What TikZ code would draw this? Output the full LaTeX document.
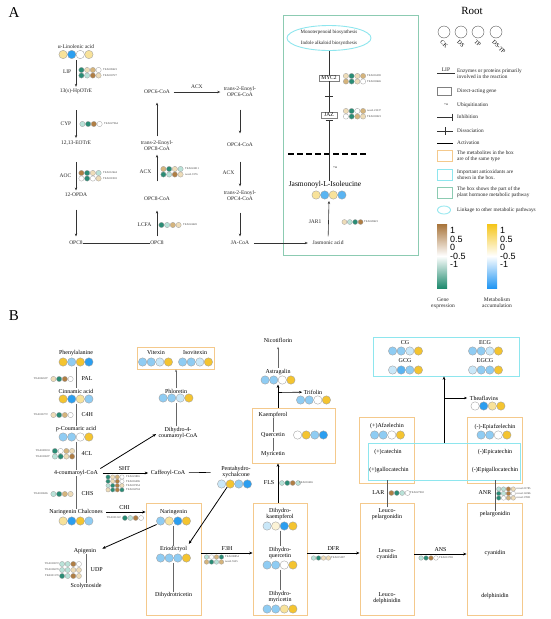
\documentclass[tikz,border=0pt]{standalone}
\usepackage{fontspec}
\setmainfont{Liberation Serif}
\newfontfamily\sansf{Liberation Sans}
\usetikzlibrary{arrows.meta,shapes.geometric,calc}
\definecolor{gbr}{HTML}{B07E44}
\definecolor{gtn}{HTML}{D5B47C}
\definecolor{glt}{HTML}{EEDCB8}
\definecolor{gtl}{HTML}{B9E2D8}
\definecolor{gte}{HTML}{2A8C75}
\definecolor{myl}{HTML}{F4C430}
\definecolor{mly}{HTML}{F8E29A}
\definecolor{mvy}{HTML}{FCF3D6}
\definecolor{mbl}{HTML}{2B9EF0}
\definecolor{mmb}{HTML}{5AB4F2}
\definecolor{mlb}{HTML}{8FCCF3}
\definecolor{mvb}{HTML}{C9E7F8}
\definecolor{orc}{HTML}{F4C98C}
\definecolor{cyc}{HTML}{8EE6EE}
\definecolor{grc}{HTML}{8CCBB2}
\definecolor{barbr}{HTML}{A8743A}
\definecolor{barte}{HTML}{1F8A6E}
\definecolor{baryl}{HTML}{F5C518}
\definecolor{barbl}{HTML}{2196F3}
\newcommand{\mcrow}[4]{%
  \foreach \cc [count=\ii] in {#4}{\node[mc,fill=\cc] (#1-\ii) at ({#2+(\ii-2.5)*8.6},{#3}) {};}}
\newcommand{\gnrow}[5]{%
  \foreach \cc [count=\ii] in {#4}{\node[gc,fill=\cc,minimum size=#5] (#1-\ii) at ({#2+(\ii-2.5)*#5*1.08},{#3}) {};}}
\tikzset{
  mc/.style={circle,draw=gray!75,line width=0.35pt,minimum size=8.4pt,inner sep=0pt},
  gc/.style={circle,draw=gray!75,line width=0.3pt,inner sep=0pt},
  ta/.style={font=\fontsize{5.5}{6}\selectfont,align=center,inner sep=0.5pt,text=black!85},
  tb/.style={font=\fontsize{6}{6.6}\selectfont,align=center,inner sep=0.5pt},
  tl/.style={font=\fontsize{5.3}{6.2}\selectfont,align=left,anchor=west,inner sep=0pt,text=black!85},
  gid/.style={font=\fontsize{2.8}{3}\selectfont,inner sep=0pt,text=black!75},
  rl/.style={font=\fontsize{5.8}{5.8}\selectfont,rotate=-45,anchor=west,inner sep=0pt},
  arrA/.style={-{Stealth[length=3pt,width=2.4pt]},line width=0.6pt,draw=black!80},
  lnA/.style={line width=0.6pt,draw=black!80},
  arrB/.style={-{Stealth[length=3.5pt,width=2.8pt]},line width=0.8pt},
  arrT/.style={-{Stealth[length=2.5pt,width=2pt]},line width=0.4pt,draw=gray!80!black},
  thinB/.style={line width=0.4pt,draw=gray!80!black},
  obox/.style={draw=orc,line width=0.8pt,inner sep=0pt},
  cbx/.style={draw=cyc,line width=0.8pt,inner sep=0pt},
  sans/.style={font=\sansf\fontsize{9}{9}\selectfont,anchor=west,inner sep=0pt}
}
\begin{document}
\begin{tikzpicture}[x=1pt,y=-1pt]
\useasboundingbox (0,0) rectangle (550,619);
\fill[white] (0,0) rectangle (550,619);
% ================= PANEL A =================
\node[font=\fontsize{15}{15}\selectfont,inner sep=0] (labA) at (14,13) {A};
\node[ta] (lin) at (76,47) {α-Linolenic acid};
\mcrow{linc}{76}{54.5}{mly,mbl,white,mly}
\coordinate (linb) at (76,60);
\node[ta] (hpo) at (76,91) {13(s)-HpOTrE};
\draw[arrA,shorten >=1] (linb) -- (hpo);
\node[ta,anchor=east] (lip) at (72,72) {LIP};
\gnrow{lipa}{90}{70}{gte,glt,gtn,white}{5.3}
\gnrow{lipb}{90}{75.5}{gte,gtl,gbr,glt}{5.3}
\node[gid,anchor=west] (lipida) at (103,70) {TEA009423};
\node[gid,anchor=west] (lipidb) at (103,75.5) {TEA003727};
\node[ta] (eot) at (76,143) {12,13-EOTrE};
\draw[arrA,shorten <=16,shorten >=2] (hpo) -- (eot);
\node[ta,anchor=east] (cyp) at (72,124) {CYP};
\gnrow{cypg}{91}{124}{gtl,gte,gbr,white}{5.3}
\node[gid,anchor=west] (cypid) at (104,124) {TEA027964};
\node[ta] (opda) at (76,195) {12-OPDA};
\draw[arrA,shorten <=16,shorten >=2] (eot) -- (opda);
\node[ta,anchor=east] (aoc) at (72,176) {AOC};
\gnrow{aoca}{90}{173}{gbr,gte,glt,gtl}{5.3}
\gnrow{aocb}{90}{178.5}{white,gte,white,glt}{5.3}
\node[gid,anchor=west] (aocida) at (103,173) {TEA012644};
\node[gid,anchor=west] (aocidb) at (103,178.5) {TEA001903};
\node[ta] (opc8) at (76,243) {OPC8};
\draw[arrA,shorten <=12,shorten >=4] (opda) -- (opc8);
\node[ta] (opc8b) at (157,243) {OPC8};
\draw[lnA] (opc8) -- (opc8b);
\node[ta] (opc8coa) at (157,199) {OPC8-CoA};
\draw[arrA,shorten <=4,shorten >=9] (opc8b) -- (opc8coa);
\node[ta,anchor=east] (lcfa) at (152,225) {LCFA};
\gnrow{lcfag}{170}{225}{gte,gtl,gtn,glt}{5.3}
\node[gid,anchor=west] (lcfaid) at (183,225) {TEA024449};
\node[ta] (t2o8) at (157,146) {trans-2-Enoyl-\\OPC8-CoA};
\draw[arrA,shorten <=15,shorten >=3] (opc8coa) -- (t2o8);
\node[ta,anchor=east] (acx1) at (152,172) {ACX};
\gnrow{acxa}{172}{169}{gtn,gte,glt,gtl}{5.3}
\gnrow{acxb}{172}{174.5}{gte,gtl,gbr,glt}{5.3}
\node[gid,anchor=west] (acxida) at (185,169) {TEA024011};
\node[gid,anchor=west] (acxidb) at (185,174.5) {novel.9176};
\node[ta] (opc6) at (157,92) {OPC6-CoA};
\draw[arrA,shorten <=4,shorten >=8] (t2o8) -- (opc6);
\node[ta] (t2o6) at (240,92) {trans-2-Enoyl-\\OPC6-CoA};
\draw[arrA,shorten <=3,shorten >=3] (opc6) -- node[ta,above=3pt] (acx2) {ACX} (t2o6);
\node[ta] (opc4) at (240,145) {OPC4-CoA};
\draw[arrA,shorten <=12,shorten >=9] (t2o6) -- (opc4);
\node[ta] (t2o4) at (240,196) {trans-2-Enoyl-\\OPC4-CoA};
\draw[arrA,shorten <=14,shorten >=4] (opc4) -- (t2o4);
\node[ta,anchor=east] (acx3) at (235,173) {ACX};
\node[ta] (jacoa) at (240,243) {JA-CoA};
\draw[arrA,shorten <=11,shorten >=4] (t2o4) -- (jacoa);
\node[draw=grc,line width=0.9pt,minimum width=135,minimum height=240,inner sep=0] (gbox) at (350.5,135) {};
\node[ta] (ja) at (328,243) {Jasmonic acid};
\draw[arrA,shorten <=4,shorten >=4] (jacoa) -- (ja);
\node[ellipse,draw=cyc,line width=0.9pt,minimum width=84,minimum height=25,inner sep=0] (ell) at (329,38) {};
\node[font=\fontsize{5}{5}\selectfont,inner sep=0,text=black!85] (mono) at (329,32.5) {Monoterpenoid biosynthesis};
\node[font=\fontsize{5}{5}\selectfont,inner sep=0,text=black!85] (indo) at (329,43.5) {Indole alkaloid biosynthesis};
\node[draw=gray,line width=0.5pt,font=\fontsize{5.5}{6}\selectfont,inner sep=1.2pt,minimum width=20] (myc) at (329,78) {MYC2};
\node[draw=gray,line width=0.5pt,font=\fontsize{5.5}{6}\selectfont,inner sep=1.2pt,minimum width=16] (jaz) at (329,115) {JAZ};
\draw[lnA] (ell) -- (myc);
\draw[lnA] (myc) -- coordinate (disc) (jaz);
\draw[lnA] ([xshift=-4]disc) -- ([xshift=4]disc);
\gnrow{myca}{354.5}{76}{glt,gte,glt,gtn}{5.3}
\gnrow{mycb}{354.5}{81.5}{gtn,gte,glt,white}{5.3}
\node[gid,anchor=west] (mycida) at (367,76) {TEA016290};
\node[gid,anchor=west] (mycidb) at (367,81.5) {TEA003646};
\gnrow{jaza}{354.5}{111}{glt,gte,white,gtn}{5.3}
\gnrow{jazb}{354.5}{116.5}{white,gte,gtn,glt}{5.3}
\node[gid,anchor=west] (jazida) at (367,111) {novel.23237};
\node[gid,anchor=west] (jazidb) at (367,116.5) {TEA003023};
\coordinate (dl1) at (288,154);
\coordinate (dl2) at (368,154);
\draw[line width=2.2pt,dash pattern=on 6pt off 3pt] (dl1) -- (dl2);
\node[font=\fontsize{3.5}{4}\selectfont,inner sep=0] (ub) at (335,168) {+u};
\node[font=\fontsize{7.5}{8}\selectfont,inner sep=0.5pt] (jasi) at (325,185) {Jasmonoyl-L-Isoleucine};
\draw[lnA,-{Bar[width=7pt]},shorten >=2] (jasi.north -| jaz) -- (jaz);
\mcrow{jasc}{329}{195}{mly,mmb,mly,mmb}
\coordinate (jasb) at (329,201);
\draw[arrA,shorten <=4] (ja) -- (jasb);
\node[ta,anchor=east] (jar) at (322,222) {JAR1};
\gnrow{jarg}{352.5}{222}{glt,gtl,gte,gbr}{5}
\node[gid,anchor=west] (jarid) at (364,222) {TEA028623};
% ================= LEGEND =================
\node[font=\fontsize{11}{11}\selectfont,inner sep=0] (root) at (472,11) {Root};
\foreach \xx/\nm in {444/lc1,461/lc2,478/lc3,496/lc4}{\node[circle,draw=gray!70!black,line width=0.4pt,minimum size=12,inner sep=0] (\nm) at (\xx,32) {};}
\node[rl] (lck) at (441,41) {CK};
\node[rl] (lds) at (458,41) {DS};
\node[rl] (ltp) at (475,41) {TP};
\node[rl] (ldstp) at (493,41) {DS-TP};
\node[ta] (llip) at (446,70) {LIP};
\coordinate (lu1) at (437,73.5);
\coordinate (lu2) at (455,73.5);
\draw[lnA] (lu1) -- (lu2);
\node[tl] (tlip) at (457,74) {Enzymes or proteins primarily\\involved in the reaction};
\node[draw=gray,line width=0.5pt,minimum width=14,minimum height=8,inner sep=0] (ldir) at (444,91) {};
\node[tl] (tdir) at (457,91) {Direct-acting gene};
\node[font=\fontsize{3.5}{4}\selectfont,inner sep=0] (lub) at (446,105) {+u};
\node[tl] (tub) at (457,105) {Ubiquitination};
\coordinate (li1) at (437,117);
\coordinate (li2) at (453,117);
\draw[lnA,-{Bar[width=7pt]}] (li1) -- (li2);
\node[tl] (tinh) at (457,117) {Inhibition};
\coordinate (ld1) at (437,131);
\coordinate (ld2) at (453,131);
\draw[lnA] (ld1) -- coordinate (ldm) (ld2);
\draw[lnA] ([yshift=4]ldm) -- ([yshift=-4]ldm);
\node[tl] (tdis) at (457,131) {Dissociation};
\coordinate (la1) at (437,143);
\coordinate (la2) at (453,143);
\draw[line width=0.4pt] (la1) -- (la2);
\node[tl] (tact) at (457,143) {Activation};
\node[obox,minimum width=15,minimum height=11] (lob) at (444.5,155.5) {};
\node[tl] (tob) at (457,156) {The metabolites in the box\\are of the same type};
\node[cbx,minimum width=15,minimum height=11] (lcb) at (444.5,174.5) {};
\node[tl] (tcb) at (457,175) {Important antioxidants are\\shown in the box.};
\node[draw=grc,line width=0.8pt,minimum width=15,minimum height=11,inner sep=0] (lgb) at (444.5,192.5) {};
\node[tl] (tgb) at (457,192) {The box shows the part of the\\plant hormone metabolic pathway};
\node[ellipse,draw=cyc,line width=0.8pt,minimum width=13,minimum height=8,inner sep=0] (lel) at (444,210) {};
\node[tl] (tel) at (457,210) {Linkage to other metabolic pathways};
\node[minimum width=10,minimum height=64,inner sep=0,top color=barbr,bottom color=barte,middle color=white] (gbar) at (442,256) {};
\node[minimum width=10,minimum height=64,inner sep=0,top color=baryl,bottom color=barbl,middle color=white] (mbar) at (492,256) {};
\foreach \yy/\tt [count=\k] in {230.5/1,239/0.5,247.5/0,256/-0.5,264/-1}{
  \node[sans] (gl\k) at (450,\yy) {\tt};
  \node[sans] (ml\k) at (500,\yy) {\tt};
}
\node[ta] (gexp) at (443,303) {Gene\\expression};
\node[ta] (macc) at (497,303) {Metabolism\\accumulation};
% ================= PANEL B =================
\node[font=\fontsize{15}{15}\selectfont,inner sep=0] (labB) at (14,316) {B};
\node[tb] (phe) at (76,353) {Phenylalanine};
\mcrow{phec}{76}{362}{myl,mlb,myl,mbl}
\coordinate (pheb) at (76,366.5);
\node[tb] (cin) at (76,391) {Cinnamic acid};
\draw[thinB] (pheb) -- (cin);
\node[tb,anchor=west] (pal) at (81,379) {PAL};
\gnrow{palg}{62}{379}{glt,gte,gbr,white}{5.3}
\node[gid,anchor=east] (palid) at (48,379) {TEA024597};
\mcrow{cinc}{76}{399}{myl,mbl,mly,mlb}
\coordinate (cinb) at (76,403.5);
\node[tb] (pco) at (76,429) {p-Coumaric acid};
\draw[thinB] (cinb) -- (pco);
\node[tb,anchor=west] (c4h) at (81,415) {C4H};
\gnrow{c4hg}{62}{415}{glt,gte,gtn,white}{5.3}
\node[gid,anchor=east] (c4hid) at (48,415) {TEA016772};
\mcrow{pcoc}{76}{437}{mlb,mlb,white,myl}
\coordinate (pcob) at (76,441.5);
\node[tb] (cou) at (76,473) {4-coumaroyl-CoA};
\draw[thinB] (pcob) -- (cou);
\node[tb,anchor=west] (fcl) at (81,454) {4CL};
\gnrow{fcla}{63.5}{451}{gte,white,gtn,glt}{5.3}
\gnrow{fclb}{63.5}{456.5}{gtl,gte,glt,gbr}{5.3}
\node[gid,anchor=east] (fclida) at (50,451) {TEA029033};
\node[gid,anchor=east] (fclidb) at (50,456.5) {TEA010697};
\node[tb] (nch) at (76,512) {Naringenin Chalcones};
\draw[thinB] (cou) -- (nch);
\node[tb,anchor=west] (chs) at (81,494) {CHS};
\gnrow{chsg}{62}{494}{gtl,gte,gtn,glt}{5.3}
\node[gid,anchor=east] (chsid) at (48,494) {TEA010665};
\mcrow{nchc}{76}{521}{mly,mbl,myl,mlb}
\node[tb] (caf) at (168,473) {Caffeoyl-CoA};
\draw[arrB,line width=0.7pt,shorten <=4,shorten >=2] (cou) -- node[tb,above=1.5pt] (sht) {SHT} (caf);
\gnrow{shta}{115}{477}{gte,glt,gtn,white}{4.3}
\gnrow{shtb}{115}{481.3}{gte,glt,gbr,white}{4.3}
\gnrow{shtc}{115}{485.6}{gtl,gte,gbr,glt}{4.3}
\gnrow{shtd}{115}{489.9}{glt,gte,gbr,gte}{4.3}
\node[gid,anchor=west] (shtida) at (126,477) {TEA023865};
\node[gid,anchor=west] (shtidb) at (126,481.3) {TEA016096};
\node[gid,anchor=west] (shtidc) at (126,485.6) {TEA007054};
\node[gid,anchor=west] (shtidd) at (126,489.9) {TEA004704};
\node[tb] (pen) at (236,472) {Pentahydro-\\xychalcone};
\draw[line width=0.6pt,shorten <=3,shorten >=10] (caf) -- (pen);
\mcrow{penc}{234.5}{484}{mvb,myl,mlb,mbl}
\node[tb] (dhc) at (178,433) {Dihydro-4-\\coumaroyl-CoA};
\draw[arrB,shorten <=2,shorten >=2] (cou.north east) -- (dhc.west);
\node[tb] (phl) at (176,391) {Phloretin};
\mcrow{phlc}{176}{398}{mlb,mlb,mvb,myl}
\coordinate (phlb) at (176,402.5);
\draw[thinB] (dhc.north -| phlb) -- (phlb);
\node[obox,minimum width=77,minimum height=22] (vbox) at (175.5,358) {};
\draw[arrT] (phl) -- (phl |- vbox.south);
\node[tb] (vit) at (156,353) {Vitexin};
\mcrow{vitc}{155.5}{362}{mlb,mlb,mvb,myl}
\node[tb] (isov) at (195,353) {Isovitexin};
\mcrow{isoc}{195.5}{362}{mlb,mlb,mvb,myl}
\node[obox,minimum width=55,minimum height=112] (narbox) at (173.5,559) {};
\draw[arrB,line width=0.7pt,shorten <=3] (nch) -- node[tb,above=1.5pt] (chi) {CHI} (narbox.west |- nch);
\gnrow{chig}{133}{518}{gte,gtl,gbr,white}{5}
\node[gid,anchor=east] (chiid) at (121,518) {TEA021222};
\node[tb] (nar) at (173.5,512) {Naringenin};
\mcrow{narc}{173.5}{521}{mlb,mly,mbl,myl}
\coordinate (narb) at (173.5,525.5);
\node[tb] (eri) at (173.5,549) {Eriodictyol};
\draw[thinB] (narb) -- (eri);
\mcrow{eric}{173.5}{558}{mlb,mlb,mlb,myl}
\coordinate (erib) at (173.5,562.5);
\node[tb] (dht) at (173.5,595) {Dihydrotricetin};
\draw[thinB] (erib) -- (dht);
\draw[arrB,shorten >=2] (penc-2.south west) -- (eri.north east);
\node[tb] (api) at (85,551) {Apigenin};
\draw[arrB,shorten <=1,shorten >=6] (narc-1.south west) -- (api.east);
\node[tb] (sco) at (86,586) {Scolymoside};
\draw[thinB] (api.south -| sco) -- (sco);
\node[tb,anchor=west] (udp) at (90,570) {UDP};
\gnrow{udpa}{70.5}{564}{gtl,gtl,gbr,white}{5.2}
\gnrow{udpb}{70.5}{570}{gtl,gtl,glt,glt}{5.2}
\gnrow{udpc}{70.5}{576}{gte,gtl,gbr,glt}{5.2}
\node[gid,anchor=east] (udpida) at (59,564) {TEA010072};
\node[gid,anchor=east] (udpidb) at (59,570) {TEA016070};
\node[gid,anchor=east] (udpidc) at (59,576) {TEA031170};
\node[obox,minimum width=54,minimum height=112] (dhbox) at (280,559) {};
\draw[arrB,line width=0.7pt] ([yshift=6]narbox.east) -- node[tb,above=1.5pt] (f3h) {F3H} ([yshift=6]dhbox.west);
\gnrow{f3ha}{214}{557}{gtl,white,gtn,gte}{4.6}
\gnrow{f3hb}{214}{562}{gtn,gte,gtl,gtn}{4.6}
\node[gid,anchor=west] (f3hida) at (225,557) {TEA008854};
\node[gid,anchor=west] (f3hidb) at (225,562) {novel.5555};
\node[tb] (dhk) at (280,514) {Dihydro-\\kaempferol};
\mcrow{dhkc}{280}{526}{mvb,mvy,mbl,myl}
\coordinate (dhkb) at (280,530.5);
\node[tb] (dhq) at (280,553) {Dihydro-\\quercetin};
\draw[thinB] (dhkb) -- (dhq);
\mcrow{dhqc}{280}{565}{mlb,mlb,white,myl}
\coordinate (dhqb) at (280,569.5);
\node[tb] (dhm) at (280,597) {Dihydro-\\myricetin};
\draw[thinB] (dhqb) -- (dhm);
\mcrow{dhmc}{280}{609}{mlb,mlb,mly,myl}
\node[obox,minimum width=83,minimum height=55] (kbox) at (293.5,435.5) {};
\node[tb] (kae) at (273,415) {Kaempferol};
\node[tb] (que) at (273,435) {Quercetin};
\node[tb] (myr) at (273,454) {Myricetin};
\draw[thinB] (kae) -- (que);
\draw[thinB] (que) -- (myr);
\mcrow{quec}{310.5}{435}{white,myl,mlb,mbl}
\node[tb] (ast) at (278,372) {Astragalin};
\mcrow{astc}{278}{380}{mlb,mlb,white,myl}
\draw[arrB] (dhbox.north -| ast) -- (kbox.south -| ast);
\node[tb,anchor=east] (fls) at (275,483) {FLS};
\gnrow{flsg}{290}{483}{gtl,gte,gbr,gtl}{5}
\node[gid,anchor=west] (flsid) at (299,483) {TEA010465};
\coordinate (astb) at (278,384.5);
\draw[arrB] (kbox.north -| ast) -- (astb);
\node[tb] (tri) at (313,392) {Trifolin};
\coordinate (trib) at (278,392.5);
\draw[-{Stealth[length=3pt,width=2.4pt]},line width=0.6pt,shorten >=1] (trib) -- (tri);
\mcrow{tric}{313.5}{400}{mlb,mlb,white,myl}
\node[tb] (nic) at (278,340) {Nicotiflorin};
\draw[arrT,shorten <=1,shorten >=4] (ast) -- (nic);
\node[obox,minimum width=54,minimum height=112] (lbox) at (387,559) {};
\draw[arrB,line width=0.7pt] ([yshift=6]dhbox.east) -- node[tb,above=1.5pt] (dfr) {DFR} ([yshift=6]lbox.west);
\gnrow{dfrg}{321}{558}{gtl,gte,glt,glt}{4.6}
\node[gid,anchor=west] (dfrid) at (331,558) {TEA015287};
\node[tb] (lpel) at (387,514) {Leuco-\\pelargonidin};
\node[tb] (lcya) at (387,554) {Leuco-\\cyanidin};
\node[tb] (ldel) at (387,598) {Leuco-\\delphinidin};
\node[obox,minimum width=55,minimum height=112] (rbox) at (494.5,559) {};
\node[tb] (pel) at (495,514) {pelargonidin};
\node[tb] (cya) at (495,553) {cyanidin};
\node[tb] (del) at (495,596) {delphinidin};
\draw[arrB,line width=0.7pt] ([yshift=5]lbox.east) -- node[tb,above=1.5pt] (ans) {ANS} ([yshift=5]rbox.west);
\gnrow{ansg}{428.5}{558}{gtl,gte,gbr,white}{4.6}
\node[gid,anchor=west] (ansid) at (439,558) {TEA013769};
\node[obox,minimum width=55,minimum height=66] (afbox) at (386.5,450) {};
\node[obox,minimum width=55,minimum height=66] (epbox) at (494.5,450) {};
\node[cbx,minimum width=152,minimum height=37] (cbox) at (444,461.5) {};
\node[tb] (afz) at (387,426) {(+)Afzelechin};
\mcrow{afzc}{387.5}{435}{mlb,mlb,white,myl}
\node[tb] (epa) at (495,427) {(-)-Epiafzelechin};
\mcrow{epac}{494}{435}{mlb,mlb,white,myl}
\node[tb] (cat) at (388,452) {(+)catechin};
\node[tb] (gal) at (389,470) {(+)gallocatechin};
\node[tb] (epc) at (495,452) {(-)Epicatechin};
\node[tb] (epg) at (495,470) {(-)Epigallocatechin};
\draw[line width=0.6pt,draw=gray!70!black] (lpel) -- (lpel |- cbox.south);
\node[tb,anchor=east] (lar) at (385,493) {LAR};
\gnrow{larg}{399.5}{493}{gbr,gte,gtl,white}{5}
\node[gid,anchor=west] (larid) at (410,493) {TEA027902};
\draw[line width=0.6pt,draw=gray!70!black] (pel) -- (pel |- cbox.south);
\node[tb,anchor=east] (anr) at (492,493) {ANR};
\gnrow{anra}{506}{489}{gtl,gtl,gbr,glt}{4.5}
\gnrow{anrb}{506}{493.5}{gte,gtl,gbr,white}{4.5}
\gnrow{anrc}{506}{498}{gte,white,gtn,glt}{4.5}
\node[gid,anchor=west] (anrida) at (516.5,489) {novel.21785};
\node[gid,anchor=west] (anridb) at (516.5,493.5) {novel.12266};
\node[gid,anchor=west] (anridc) at (516.5,498) {novel.17831};
\node[cbx,minimum width=146,minimum height=39] (tbox) at (446,356.5) {};
\node[tb] (cg) at (405,343) {CG};
\mcrow{cgc}{405.5}{351}{mlb,mlb,mvb,myl}
\node[tb] (gcg) at (405,361) {GCG};
\mcrow{gcgc}{405.5}{370}{mvb,mmb,mlb,myl}
\node[tb] (ecg) at (485,343) {ECG};
\mcrow{ecgc}{485.5}{351}{mlb,mlb,mvb,myl}
\node[tb] (egcg) at (485,361) {EGCG};
\mcrow{egcgc}{485.5}{370}{mvb,mlb,mlb,myl}
\draw[arrB] (cbox.north) -- (cbox.north |- tbox.south);
\node[tb] (thf) at (484,398) {Theaflavins};
\mcrow{thfc}{488}{406}{white,mbl,mly,myl}
\coordinate (thbr) at (444,398);
\draw[-{Stealth[length=3pt,width=2.4pt]},line width=0.6pt,shorten >=2] (thbr) -- (thf);
\end{tikzpicture}
\end{document}
